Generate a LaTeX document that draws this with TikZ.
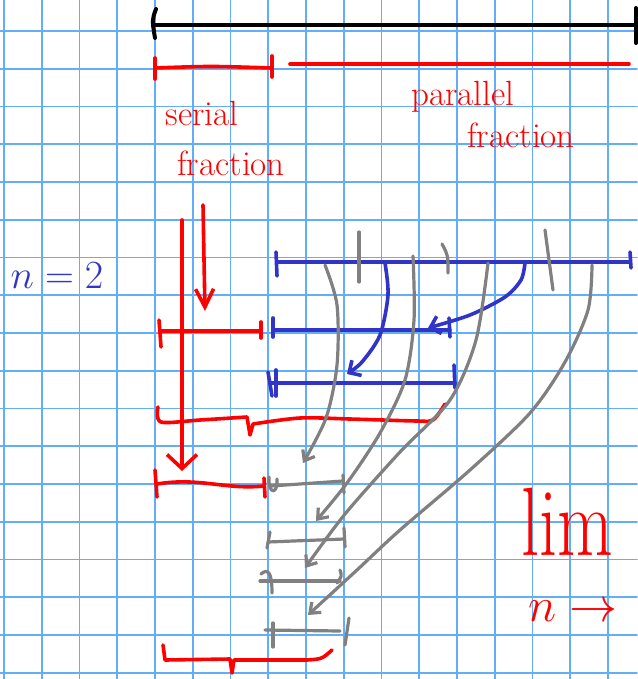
\RequirePackage{fix-cm}
\documentclass[tikz,border=0pt]{standalone}
\usepackage{xcolor}
\usepackage{tikz}
\usetikzlibrary{arrows.meta}
\definecolor{gridblue}{HTML}{62AEFA}
\definecolor{penred}{HTML}{FF0000}
\definecolor{penblue}{HTML}{3035C8}
\definecolor{pengray}{HTML}{808080}

\begin{document}
\begin{tikzpicture}[x=1pt,y=-1pt,line cap=round,line join=round,
    blackpen/.style={line width=4pt,black},
    redpen/.style={line width=3.6pt,penred},
    bluepen/.style={line width=3.6pt,penblue},
    graypen/.style={line width=3.2pt,pengray},
    redword/.style={text=penred,font=\fontsize{35}{35}\selectfont},
    graytip/.style={-{Straight Barb[length=9pt,width=14pt]}},
    bluetip/.style={-{Straight Barb[length=9pt,width=18pt]}}]
    \useasboundingbox (0,0) rectangle (637,679);
    \fill[white] (0,0) rectangle (637,679);
    \foreach \k in {0,...,16}
      \draw[gridblue,line width=1.8pt] ({4+37.75*\k},0) -- ({4+37.75*\k},679);
    \foreach \k in {0,...,17}
      \draw[gridblue,line width=1.8pt] (0,{31+37.75*\k}) -- (637,{31+37.75*\k});
    \draw[blackpen] (155,25) -- (635,25);
    \draw[blackpen] (156,9) .. controls (152,20) .. (155,38);
    \draw[blackpen] (636,8) -- (636,43);
    \draw[redpen] (155,58) -- (155,79);
    \draw[redpen] (155,68) .. controls (210,66) .. (271,68);
    \draw[redpen] (272,56) -- (272,77);
    \draw[redpen] (290,64) -- (629,64);
    \node[redword] (serial) at (202,113) {serial};
    \node[redword] (serialfr) at (231,163) {fraction};
    \node[redword] (parallel) at (463,97) {parallel};
    \node[redword] (parallelfr) at (521,135) {fraction};
    \node[text=penblue,font=\fontsize{40}{40}\selectfont] (nlabel) at (57,276) {$n=2$};
    \draw[redpen,-{Straight Barb[length=14pt,width=30pt]}] (182,220) -- (182,471);
    \draw[redpen,-{Straight Barb[length=18pt,width=18pt]}] (203,205) .. controls (204,260) .. (205,311);
    \draw[redpen] (159,320) -- (161,347);
    \draw[redpen] (160,331) -- (261,331);
    \draw[redpen] (261,322) -- (261,338);
    \draw[redpen] plot[smooth] coordinates {(158,407) (161,422) (200,420) (247,417)}
      -- (250,435) -- (253,424)
      plot[smooth] coordinates {(253,424) (300,418) (350,419) (417,421) (433,420) (445,404)};
    \draw[redpen] (155,470) -- (157,497);
    \draw[redpen] (157,484) .. controls (200,477) and (225,490) .. (264,486);
    \draw[redpen] (264,478) -- (265,497);
    \draw[redpen] (163,645) -- (165,660) -- (230,659) -- (232,673) -- (234,660) -- (307,660)
      .. controls (322,659) .. (332,650);
    \draw[bluepen] (276,252) -- (277,276);
    \draw[bluepen] (278,262) -- (630,262);
    \draw[bluepen] (630,252) -- (631,268);
    \draw[bluepen] (273,318) -- (273,337);
    \draw[bluepen] (274,330) -- (450,330);
    \draw[bluepen] (449,318) -- (450,337);
    \draw[bluepen] (268,372) -- (272,396);
    \draw[bluepen] (276,370) -- (276,396);
    \draw[bluepen] (270,383) -- (455,383);
    \draw[bluepen] (454,365) -- (455,388);
    \draw[bluepen,bluetip] plot[smooth] coordinates {(385,263) (388,295) (380,335) (362,362) (347,374)};
    \draw[bluepen,bluetip] plot[smooth] coordinates {(525,263) (521,280) (505,297) (470,315) (428,328)};
    \draw[graypen] (359,232) -- (359,282);
    \draw[graypen] (442,244) .. controls (448,255) .. (448,273);
    \draw[graypen] (545,230) -- (553,290);
    \draw[graypen,graytip] plot[smooth] coordinates {(325,265) (337,305) (337,365) (326,418) (303,463)};
    \draw[graypen,graytip] plot[smooth] coordinates {(413,256) (414,320) (405,380) (380,433) (347,483) (316,521)};
    \draw[graypen,graytip] plot[smooth] coordinates {(488,263) (476,340) (450,400) (400,452) (345,514) (305,568)};
    \draw[graypen,graytip] plot[smooth] coordinates {(592,265) (588,310) (565,362) (530,413) (470,470) (400,530) (357,570) (308,615)};
    \draw[graypen] (269,477) .. controls (268,495) and (278,495) .. (277,479);
    \draw[graypen] (271,486) -- (343,481);
    \draw[graypen] (343,475) -- (344,493);
    \draw[graypen] (270,532) -- (267,548);
    \draw[graypen] (268,542) -- (344,539);
    \draw[graypen] (344,528) -- (345,547);
    \draw[graypen] (261,574) .. controls (268,568) and (272,572) .. (272,593);
    \draw[graypen] (260,581) -- (340,581);
    \draw[graypen] (340,570) .. controls (342,576) .. (337,583);
    \draw[graypen] (273,623) -- (273,647);
    \draw[graypen] (265,630) -- (340,631);
    \draw[graypen] (349,618) -- (345,645);
    \node[text=penred,font=\fontsize{72}{72}\selectfont] (lim) at (567,522) {\scalebox{1}[1.35]{lim}};
    \node[text=penred,font=\fontsize{48}{48}\selectfont] (limn) at (573,611) {$n\to$};
\end{tikzpicture}
\end{document}
